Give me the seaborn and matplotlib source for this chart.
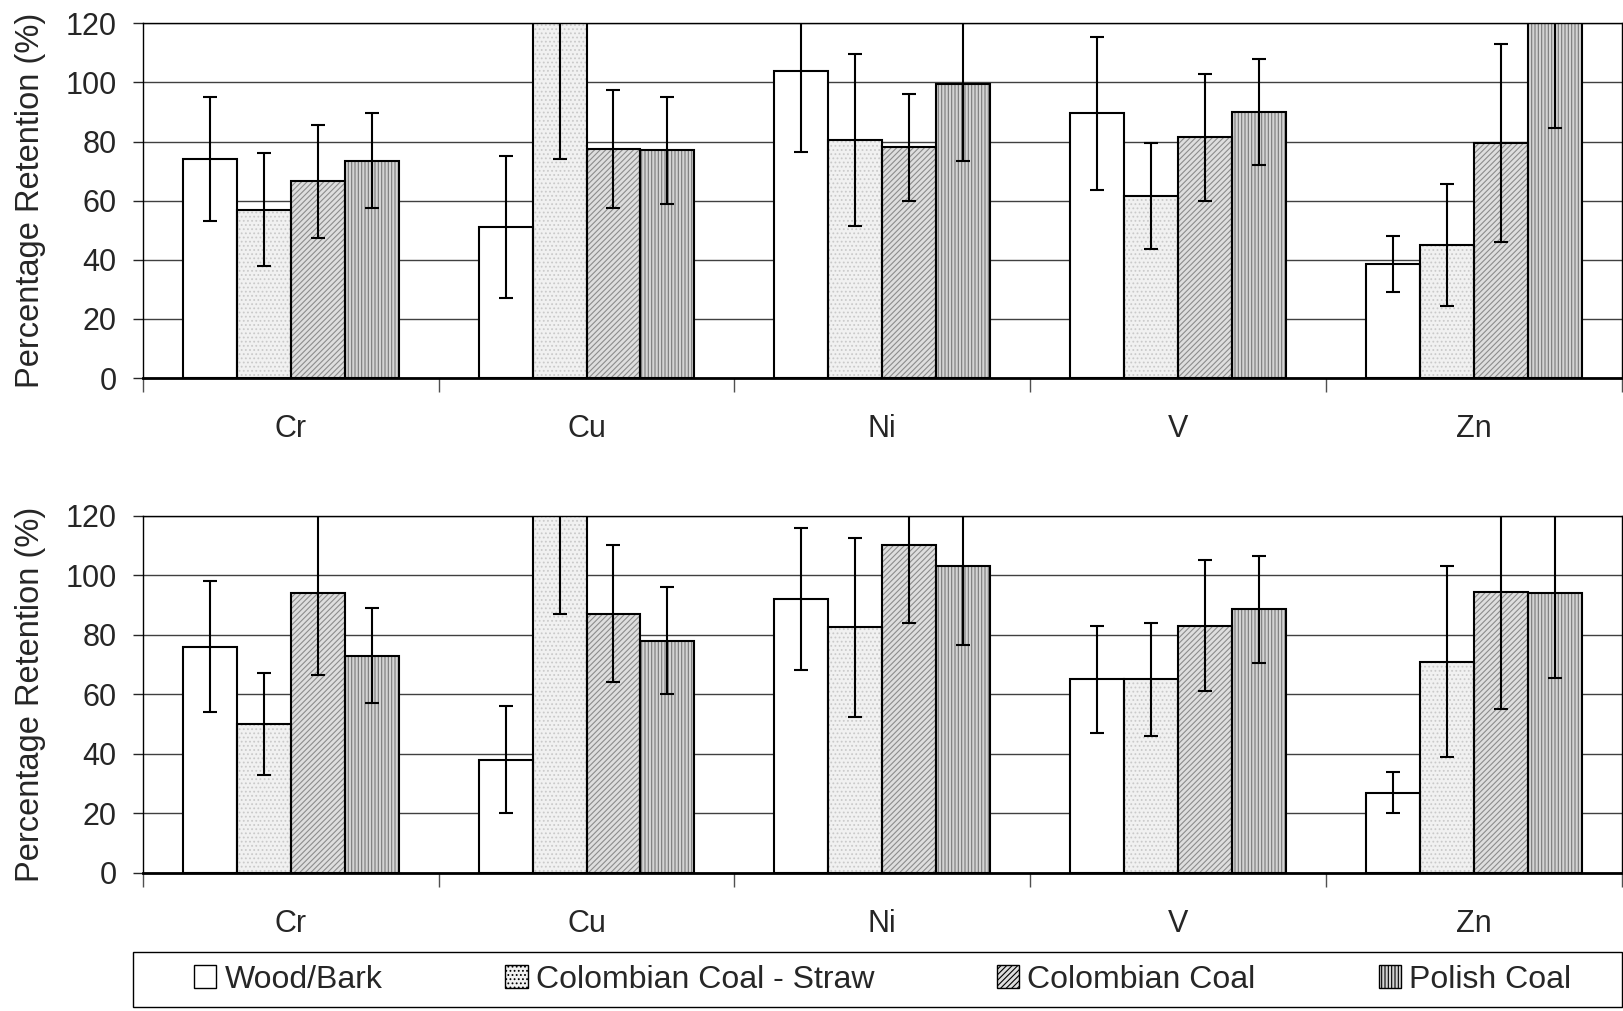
import matplotlib
matplotlib.use('Agg')
import matplotlib.pyplot as plt
from matplotlib.patches import Patch, Rectangle
from matplotlib.ticker import FixedLocator
import pandas as pd
import seaborn as sns

# Categories and series
elements = ['Cr', 'Cu', 'Ni', 'V', 'Zn']
series = ['Wood/Bark', 'Colombian Coal - Straw', 'Colombian Coal', 'Polish Coal']

# Top panel: mean retention (%) and error half-widths
top_wood = [74, 51, 104, 89.5, 38.5]
top_straw = [57, 128, 80.5, 61.5, 45]
top_col = [66.5, 77.5, 78, 81.5, 79.5]
top_polish = [73.5, 77, 99.5, 90, 125]
top_wood_err = [21, 24, 27.5, 26, 9.5]
top_straw_err = [19, 54, 29, 18, 20.5]
top_col_err = [19, 20, 18, 21.5, 33.5]
top_polish_err = [16, 18, 26, 18, 40.5]

# Bottom panel
bot_wood = [76, 38, 92, 65, 27]
bot_straw = [50, 125, 82.5, 65, 71]
bot_col = [94, 87, 110, 83, 94.5]
bot_polish = [73, 78, 103, 88.5, 94]
bot_wood_err = [22, 18, 24, 18, 7]
bot_straw_err = [17, 38, 30, 19, 32]
bot_col_err = [27.5, 23, 26, 22, 39.5]
bot_polish_err = [16, 18, 26.5, 18, 28.5]

yticks = [0, 20, 40, 60, 80, 100, 120]

# bar styles: facecolor, hatch colour, hatch
styles = [('white', 'white', ''),
          ('#f1f1f1', '#cacaca', '....'),
          ('#dedede', '#8c8c8c', '//////'),
          ('#d4d4d4', '#7a7a7a', '|||||')]

sns.set_style('white')
plt.rcParams['font.family'] = ['Liberation Sans', 'DejaVu Sans']
plt.rcParams['hatch.linewidth'] = 0.8

FS = 22


def long_frame(values, errs):
    rows = []
    for s, vals, es in zip(series, values, errs):
        for el, v, e in zip(elements, vals, es):
            rows.append({'element': el, 'series': s, 'value': v, 'err': e})
    return pd.DataFrame(rows)


def draw_panel(ax, df):
    pal = {s: st[0] for s, st in zip(series, styles)}
    sns.barplot(data=df, x='element', y='value', hue='series', order=elements,
                hue_order=series, palette=pal, width=0.73, errorbar=None,
                saturation=1, legend=False, ax=ax, linewidth=0)
    for cont, (fc, hc, hatch) in zip(ax.containers, styles):
        for p in cont:
            p.set_hatch(hatch)
            p.set_edgecolor(hc)
            p.set_linewidth(0)
    # black outlines on top
    sns.barplot(data=df, x='element', y='value', hue='series', order=elements,
                hue_order=series, width=0.73, errorbar=None, fill=False,
                legend=False, ax=ax, linewidth=1.5, edgecolor='black')
    # error bars at bar centres
    for cont, s in zip(ax.containers[:4], series):
        sub = df[df['series'] == s].set_index('element').loc[elements]
        xs = [p.get_x() + p.get_width() / 2 for p in cont]
        ax.errorbar(xs, sub['value'], yerr=sub['err'], fmt='none',
                    ecolor='black', elinewidth=1.5, capsize=5, capthick=1.5,
                    zorder=5)
    ax.set_ylim(0, 120)
    ax.set_xlim(-0.5, 4.5)
    ax.set_yticks(yticks)
    ax.yaxis.grid(True, color='#404040', linewidth=1)
    ax.set_axisbelow(True)
    ax.tick_params(axis='y', labelsize=FS, length=7, width=1, direction='out',
                   left=True, pad=12)
    ax.tick_params(axis='x', which='major', labelsize=FS, length=0, pad=26)
    ax.xaxis.set_minor_locator(FixedLocator([-0.5, 0.5, 1.5, 2.5, 3.5, 4.5]))
    ax.tick_params(axis='x', which='minor', length=10, width=1,
                   direction='out', bottom=True, color='#505050')
    ax.set_xlabel('')
    ax.set_ylabel('Percentage Retention (%)', fontsize=23.5, labelpad=14)
    for sp in ax.spines.values():
        sp.set_visible(True)
        sp.set_color('black')
        sp.set_linewidth(1)
    ax.spines['bottom'].set_linewidth(2)


fig = plt.figure(figsize=(16.24, 10.11), dpi=100)
ax1 = fig.add_axes([0.088, 0.626, 0.9105, 0.351])
ax2 = fig.add_axes([0.088, 0.1365, 0.9105, 0.3535])

draw_panel(ax1, long_frame([top_wood, top_straw, top_col, top_polish],
                           [top_wood_err, top_straw_err, top_col_err, top_polish_err]))
draw_panel(ax2, long_frame([bot_wood, bot_straw, bot_col, bot_polish],
                           [bot_wood_err, bot_straw_err, bot_col_err, bot_polish_err]))

# legend box along the bottom
fig.add_artist(Rectangle((0.082, 0.004), 0.917, 0.054, transform=fig.transFigure,
                         fill=False, edgecolor='black', linewidth=1))
handles = []
for s, (fc, hc, hatch) in zip(series, styles):
    handles.append(Patch(facecolor=fc, edgecolor='black', hatch=hatch, label=s,
                         linewidth=1))
leg = fig.legend(handles=handles, ncol=4, loc='center',
                 bbox_to_anchor=(0.5435, 0.031), fontsize=23, frameon=False,
                 handlelength=0.7, handleheight=0.7, handletextpad=0.25,
                 columnspacing=3.85, borderpad=0)

fig.savefig('out.png', dpi=100)
